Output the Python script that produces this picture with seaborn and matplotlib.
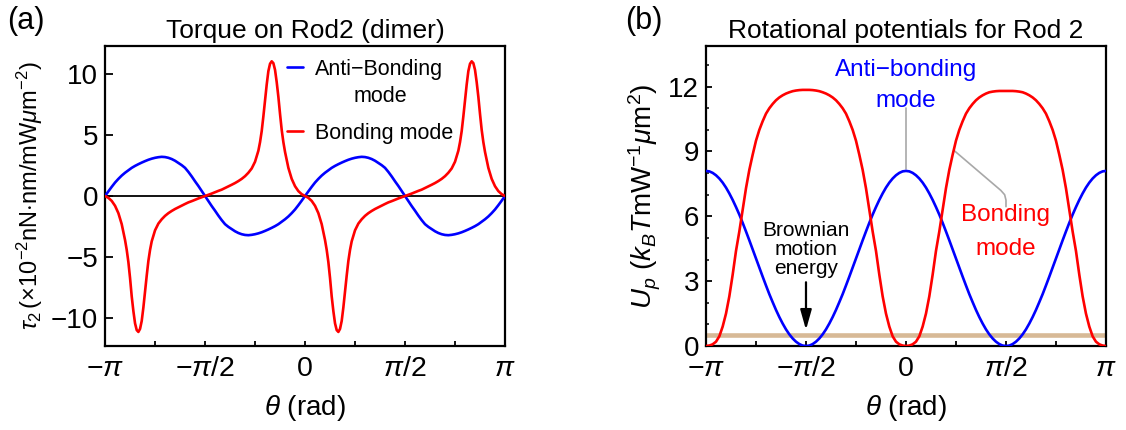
import numpy as np
import pandas as pd
import matplotlib
matplotlib.use("Agg")
import matplotlib.pyplot as plt
import seaborn as sns
from matplotlib.lines import Line2D
from matplotlib.ticker import FixedLocator, MultipleLocator

# ---------------- data ----------------
theta_deg = list(range(-180, 181, 3))

# Panel (a): torque on rod 2 (x1e-2 nN nm / mW um^-2)
torque_antibonding = [
    0, 0.38, 0.75, 1.1, 1.4, 1.67, 1.9, 2.1, 2.3, 2.46, 2.6, 2.73, 2.85, 2.96, 3.05, 3.12,
    3.17, 3.2, 3.18, 3.12, 3.02, 2.88, 2.7, 2.52, 2.3, 1.97, 1.6, 1.2, 0.82, 0.41, 0,
    -0.41, -0.82, -1.2, -1.6, -1.97, -2.3, -2.52, -2.7, -2.88, -3.02, -3.12, -3.18, -3.2,
    -3.17, -3.12, -3.05, -2.96, -2.85, -2.73, -2.6, -2.46, -2.3, -2.1, -1.9, -1.67, -1.4,
    -1.1, -0.75, -0.38, 0,
    0.38, 0.75, 1.1, 1.4, 1.67, 1.9, 2.1, 2.3, 2.46, 2.6, 2.73, 2.85, 2.96, 3.05, 3.12,
    3.17, 3.2, 3.18, 3.12, 3.02, 2.88, 2.7, 2.52, 2.3, 1.97, 1.6, 1.2, 0.82, 0.41, 0,
    -0.41, -0.82, -1.2, -1.6, -1.97, -2.3, -2.52, -2.7, -2.88, -3.02, -3.12, -3.18, -3.2,
    -3.17, -3.12, -3.05, -2.96, -2.85, -2.73, -2.6, -2.46, -2.3, -2.1, -1.9, -1.67, -1.4,
    -1.1, -0.75, -0.38, 0,
]

# bonding-mode torque is sampled more finely around its sharp peaks
theta_bond_deg = [
    -180, -177, -174, -171, -168, -165, -162, -160.5, -159, -157.5, -156, -154.5, -153,
    -151.5, -150, -148.5, -147, -145.5, -144, -142.5, -141, -139.5, -138, -135, -132, -129,
    -126, -123, -120, -117, -114, -111, -108, -105, -102, -99, -96, -93, -90,
    -87, -84, -81, -78, -75, -72, -69, -66, -63, -60, -57, -54, -51, -48, -45, -42, -40.5,
    -39, -37.5, -36, -34.5, -33, -31.5, -30, -28.5, -27, -25.5, -24, -22.5, -21, -19.5, -18,
    -15, -12, -9, -6, -3, 0,
    3, 6, 9, 12, 15, 18, 19.5, 21, 22.5, 24, 25.5, 27, 28.5, 30, 31.5, 33, 34.5, 36, 37.5,
    39, 40.5, 42, 45, 48, 51, 54, 57, 60, 63, 66, 69, 72, 75, 78, 81, 84, 87, 90,
    93, 96, 99, 102, 105, 108, 111, 114, 117, 120, 123, 126, 129, 132, 135, 138, 139.5,
    141, 142.5, 144, 145.5, 147, 148.5, 150, 151.5, 153, 154.5, 156, 157.5, 159, 160.5, 162,
    165, 168, 171, 174, 177, 180,
]
torque_bonding = [
    0, -0.15, -0.4, -0.8, -1.4, -2.3, -3.6, -4.4, -5.4, -6.7, -8.2, -9.4, -10.4, -10.95,
    -11.1, -10.85, -10.2, -9.1, -7.8, -6.5, -5.3, -4.4, -3.7, -2.8, -2.25, -1.9, -1.62,
    -1.4, -1.22, -1.06, -0.92, -0.78, -0.65, -0.52, -0.42, -0.31, -0.2, -0.1, 0,
    0.1, 0.2, 0.31, 0.42, 0.52, 0.65, 0.78, 0.92, 1.06, 1.22, 1.4, 1.62, 1.9, 2.25, 2.8,
    3.7, 4.4, 5.3, 6.5, 7.8, 9.1, 10.2, 10.8, 11.0, 10.85, 10.3, 9.3, 8.1, 6.7, 5.4, 4.4,
    3.6, 2.3, 1.4, 0.8, 0.4, 0.15, 0,
    -0.15, -0.4, -0.8, -1.4, -2.3, -3.6, -4.4, -5.4, -6.7, -8.2, -9.4, -10.4, -10.95,
    -11.1, -10.85, -10.2, -9.1, -7.8, -6.5, -5.3, -4.4, -3.7, -2.8, -2.25, -1.9, -1.62,
    -1.4, -1.22, -1.06, -0.92, -0.78, -0.65, -0.52, -0.42, -0.31, -0.2, -0.1, 0,
    0.1, 0.2, 0.31, 0.42, 0.52, 0.65, 0.78, 0.92, 1.06, 1.22, 1.4, 1.62, 1.9, 2.25, 2.8,
    3.7, 4.4, 5.3, 6.5, 7.8, 9.1, 10.2, 10.8, 11.0, 10.85, 10.3, 9.3, 8.1, 6.7, 5.4, 4.4,
    3.6, 2.3, 1.4, 0.8, 0.4, 0.15, 0,
]

# Panel (b): rotational potentials (kBT mW^-1 um^2)
potential_antibonding = [
    8.1, 8.08, 8.01, 7.9, 7.75, 7.56, 7.33, 7.06, 6.76, 6.43, 6.08, 5.7, 5.3, 4.89, 4.47,
    4.05, 3.63, 3.21, 2.8, 2.4, 2.03, 1.67, 1.34, 1.04, 0.77, 0.54, 0.35, 0.2, 0.09, 0.02, 0,
    0.02, 0.09, 0.2, 0.35, 0.54, 0.77, 1.04, 1.34, 1.67, 2.03, 2.4, 2.8, 3.21, 3.63, 4.05,
    4.47, 4.89, 5.3, 5.7, 6.08, 6.43, 6.76, 7.06, 7.33, 7.56, 7.75, 7.9, 8.01, 8.08, 8.1,
    8.08, 8.01, 7.9, 7.75, 7.56, 7.33, 7.06, 6.76, 6.43, 6.08, 5.7, 5.3, 4.89, 4.47,
    4.05, 3.63, 3.21, 2.8, 2.4, 2.03, 1.67, 1.34, 1.04, 0.77, 0.54, 0.35, 0.2, 0.09, 0.02, 0,
    0.02, 0.09, 0.2, 0.35, 0.54, 0.77, 1.04, 1.34, 1.67, 2.03, 2.4, 2.8, 3.21, 3.63, 4.05,
    4.47, 4.89, 5.3, 5.7, 6.08, 6.43, 6.76, 7.06, 7.33, 7.56, 7.75, 7.9, 8.01, 8.08, 8.1,
]
potential_bonding = [
    0, 0.02, 0.08, 0.2, 0.45, 0.9, 1.5, 2.3, 3.3, 4.4, 5.3, 6.3, 7.3, 8.15, 8.85, 9.5, 10.0,
    10.4, 10.75, 11.0, 11.2, 11.37, 11.5, 11.6, 11.68, 11.74, 11.79, 11.82, 11.84, 11.85, 11.85,
    11.85, 11.84, 11.82, 11.79, 11.74, 11.68, 11.6, 11.5, 11.37, 11.2, 11.0, 10.75, 10.4,
    10.0, 9.5, 8.85, 8.15, 7.3, 6.3, 5.3, 4.4, 3.3, 2.3, 1.5, 0.9, 0.45, 0.2, 0.08, 0.02, 0,
    0.02, 0.08, 0.2, 0.45, 0.9, 1.5, 2.3, 3.3, 4.4, 5.3, 6.3, 7.3, 8.15, 8.85, 9.5, 10.0,
    10.4, 10.75, 11.0, 11.2, 11.37, 11.5, 11.6, 11.68, 11.74, 11.77, 11.79, 11.8, 11.8, 11.8,
    11.8, 11.8, 11.79, 11.77, 11.74, 11.68, 11.6, 11.5, 11.37, 11.2, 11.0, 10.75, 10.4,
    10.0, 9.5, 8.85, 8.15, 7.3, 6.3, 5.3, 4.4, 3.3, 2.3, 1.5, 0.9, 0.45, 0.2, 0.08, 0.02, 0,
]
brownian_energy = 0.5

xtick_values = [-np.pi, -np.pi / 2, 0, np.pi / 2, np.pi]
xtick_labels = [r"$-\pi$", r"$-\pi/2$", "0", r"$\pi/2$", r"$\pi$"]
xminor_values = [-3 * np.pi / 4, -np.pi / 4, np.pi / 4, 3 * np.pi / 4]
yticks_a = [-10, -5, 0, 5, 10]
yticks_b = [0, 3, 6, 9, 12]

legend_labels = ["Anti\u2212Bonding", "Bonding mode"]
legend_extra = "mode"

# ---------------- style ----------------
sns.set_theme(style="ticks")
plt.rcParams["font.family"] = ["Liberation Sans", "DejaVu Sans"]
plt.rcParams.update({
    "mathtext.fontset": "custom",
    "mathtext.rm": "Liberation Sans",
    "mathtext.it": "Liberation Sans:italic",
    "mathtext.bf": "Liberation Sans:bold",
    "axes.edgecolor": "black",
    "axes.linewidth": 1.6,
    "xtick.color": "black",
    "ytick.color": "black",
    "text.color": "black",
    "axes.labelcolor": "black",
})

df_a = pd.DataFrame({"theta": np.deg2rad(theta_deg), "tau_anti": torque_antibonding})
df_a_bond = pd.DataFrame({"theta": np.deg2rad(theta_bond_deg), "tau_bond": torque_bonding})
df_b = pd.DataFrame({
    "theta": np.deg2rad(theta_deg),
    "U_anti": potential_antibonding,
    "U_bond": potential_bonding,
})

BLUE = "#0000FF"
RED = "#FF0000"
GRAY = "#A8A8A8"
LW = 1.9

fig = plt.figure(figsize=(11.26, 4.30), dpi=100)
ax1 = fig.add_axes([0.0933, 0.1953, 0.3552, 0.6977])
ax2 = fig.add_axes([0.627, 0.1953, 0.3552, 0.6977])

# ---------------- panel (a) ----------------
ax1.axhline(0, color="black", lw=1.3, zorder=1)
sns.lineplot(data=df_a, x="theta", y="tau_anti", ax=ax1, color=BLUE, lw=LW,
             errorbar=None, legend=False, zorder=3)
sns.lineplot(data=df_a_bond, x="theta", y="tau_bond", ax=ax1, color=RED, lw=LW,
             errorbar=None, legend=False, zorder=4)
ax1.set_xlim(-np.pi, np.pi)
ax1.set_ylim(-12.25, 12.25)
ax1.set_title("Torque on Rod2 (dimer)", fontsize=19, pad=6)
ax1.set_xlabel(r"$\theta$ (rad)", fontsize=20, labelpad=8)
ax1.set_ylabel(r"$\tau_2\,(\times10^{-2}\mathrm{nN{\cdot}nm/mW}\mu\mathrm{m}^{-2})$",
               fontsize=17, labelpad=4)
ax1.set_yticks(yticks_a)

handles = [Line2D([], [], color=BLUE, lw=LW), Line2D([], [], color=RED, lw=LW)]
ax1.legend(handles, legend_labels, loc="upper left", bbox_to_anchor=(0.455, 0.957),
           frameon=False, fontsize=15.5, handlelength=0.75, handletextpad=0.55,
           labelspacing=2.0, borderpad=0, borderaxespad=0)
ax1.text(0.6875, 0.831, legend_extra, transform=ax1.transAxes, fontsize=15.5,
         ha="center", va="center")

# ---------------- panel (b) ----------------
ax2.axhline(brownian_energy, color="#D7B996", lw=3.3, zorder=1)
sns.lineplot(data=df_b, x="theta", y="U_anti", ax=ax2, color=BLUE, lw=LW,
             errorbar=None, legend=False, zorder=3)
sns.lineplot(data=df_b, x="theta", y="U_bond", ax=ax2, color=RED, lw=LW,
             errorbar=None, legend=False, zorder=4)
ax2.set_xlim(-np.pi, np.pi)
ax2.set_ylim(0, 13.88)
ax2.set_title("Rotational potentials for Rod 2", fontsize=19, pad=6)
ax2.set_xlabel(r"$\theta$ (rad)", fontsize=20, labelpad=8)
ax2.set_ylabel(r"$U_p\ (k_B T\mathrm{mW}^{-1}\mu\mathrm{m}^{2})$", fontsize=20, labelpad=4)
ax2.set_yticks(yticks_b)
ax2.yaxis.set_minor_locator(MultipleLocator(1))

ax2.text(0, 12.05, "Anti\u2212bonding\nmode", color=BLUE, fontsize=17.5,
         ha="center", va="center", multialignment="center", linespacing=1.52)
ax2.plot([0, 0], [8.2, 11.0], color=GRAY, lw=1.2, zorder=2)
ax2.text(np.pi / 2, 5.27, "Bonding\nmode", color=RED, fontsize=17.5,
         ha="center", va="center", multialignment="center", linespacing=1.72)
ax2.plot([0.754, 1.49, 1.55, 1.571, 1.571], [9.05, 7.2, 7.0, 6.75, 6.45],
         color=GRAY, lw=1.2, zorder=2)
ax2.text(-np.pi / 2, 4.46, "Brownian\nmotion\nenergy", color="black", fontsize=15,
         ha="center", va="center", multialignment="center", linespacing=1.0)
ax2.annotate("", xy=(-np.pi / 2, 0.75), xytext=(-np.pi / 2, 2.95),
             arrowprops=dict(arrowstyle="-|>,head_length=0.6,head_width=0.17",
                             color="black", lw=1.6, mutation_scale=20,
                             shrinkA=0, shrinkB=0))

for ax in (ax1, ax2):
    ax.set_xticks(xtick_values)
    ax.set_xticklabels(xtick_labels)
    ax.xaxis.set_minor_locator(FixedLocator(xminor_values))
    ax.tick_params(axis="x", which="both", direction="in", length=3.5, width=1.3,
                   labelsize=20.5, pad=7, top=False)
    ax.tick_params(axis="y", which="major", direction="in", width=1.3,
                   labelsize=20, pad=5, right=False)
    for lab in ax.get_yticklabels():
        lab.set_verticalalignment("center_baseline")
    for s in ax.spines.values():
        s.set_visible(True)
        s.set_color("black")
        s.set_linewidth(1.6)

ax1.tick_params(axis="y", which="major", length=6)
ax2.tick_params(axis="y", which="major", length=4.5)
ax2.tick_params(axis="y", which="minor", direction="in", length=2.3, width=1.1, right=False)

fig.text(0.006, 0.95, "(a)", fontsize=22, ha="left", va="center")
fig.text(0.555, 0.95, "(b)", fontsize=22, ha="left", va="center")

fig.savefig("out.png", dpi=100)
